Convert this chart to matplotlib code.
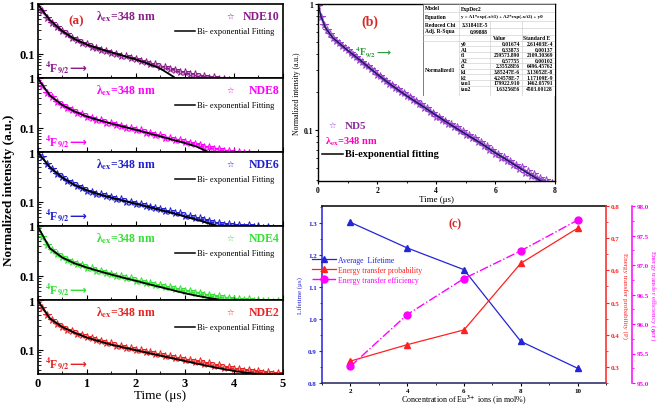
import numpy as np
import matplotlib
matplotlib.use('Agg')
import matplotlib.pyplot as plt
from matplotlib.patches import Rectangle
from matplotlib.ticker import LogLocator, NullFormatter, MultipleLocator, FormatStrFormatter

plt.rcParams['font.family'] = ['Liberation Serif', 'DejaVu Serif']
plt.rcParams['mathtext.fontset'] = 'stix'
plt.rcParams['font.weight'] = 'bold'

# ---------------- (a) decay curves of NDE samples (time in us) ----------------
t_decay = np.round(np.arange(51) * 0.1, 1)
t_fit = np.round(np.arange(21) * 0.25, 2)

samples = ['NDE10', 'NDE8', 'NDE6', 'NDE4', 'NDE2']
sample_colors = ['#8b1a8b', '#ff00ff', '#1f1fd0', '#33e033', '#e82222']

decay_nde10 = [1.00, 0.72, 0.52, 0.41, 0.345, 0.283, 0.247, 0.211, 0.190, 0.166,
               0.155, 0.137, 0.131, 0.118, 0.114, 0.103, 0.100, 0.091, 0.089, 0.082,
               0.079, 0.073, 0.070, 0.064, 0.062, 0.056, 0.055, 0.049, 0.048, 0.044,
               0.043, 0.039, 0.039, 0.035, 0.036, 0.033, 0.034, 0.031, 0.032, 0.030,
               0.029, 0.028, 0.027, 0.026, 0.025, 0.024, 0.023, 0.022, 0.021, 0.020,
               0.019]
decay_nde8 = [1.00, 0.70, 0.51, 0.41, 0.335, 0.292, 0.252, 0.230, 0.202, 0.189,
              0.169, 0.161, 0.146, 0.141, 0.128, 0.125, 0.114, 0.111, 0.101, 0.099,
              0.091, 0.089, 0.081, 0.080, 0.072, 0.071, 0.064, 0.064, 0.058, 0.058,
              0.052, 0.051, 0.047, 0.046, 0.042, 0.042, 0.038, 0.038, 0.035, 0.035,
              0.033, 0.033, 0.031, 0.031, 0.029, 0.028, 0.027, 0.026, 0.025, 0.024,
              0.023]
decay_nde6 = [1.00, 0.78, 0.57, 0.45, 0.368, 0.318, 0.267, 0.240, 0.207, 0.190,
              0.167, 0.161, 0.146, 0.142, 0.129, 0.126, 0.114, 0.113, 0.102, 0.101,
              0.093, 0.091, 0.083, 0.081, 0.074, 0.073, 0.066, 0.065, 0.059, 0.059,
              0.053, 0.053, 0.048, 0.047, 0.043, 0.042, 0.038, 0.038, 0.035, 0.036,
              0.033, 0.035, 0.032, 0.034, 0.031, 0.033, 0.030, 0.032, 0.030, 0.029,
              0.028]
decay_nde4 = [0.95, 0.60, 0.42, 0.33, 0.272, 0.240, 0.207, 0.192, 0.170, 0.162,
              0.146, 0.142, 0.128, 0.125, 0.113, 0.111, 0.100, 0.099, 0.090, 0.089,
              0.081, 0.080, 0.073, 0.072, 0.065, 0.065, 0.059, 0.059, 0.054, 0.054,
              0.049, 0.050, 0.046, 0.046, 0.042, 0.042, 0.038, 0.039, 0.036, 0.037,
              0.034, 0.035, 0.033, 0.034, 0.032, 0.033, 0.031, 0.032, 0.030, 0.031,
              0.030]
decay_nde2 = [0.95, 0.70, 0.50, 0.39, 0.327, 0.293, 0.254, 0.235, 0.209, 0.198,
              0.178, 0.172, 0.155, 0.151, 0.137, 0.135, 0.122, 0.121, 0.110, 0.109,
              0.099, 0.099, 0.090, 0.091, 0.082, 0.083, 0.075, 0.076, 0.068, 0.070,
              0.063, 0.064, 0.057, 0.059, 0.053, 0.054, 0.048, 0.049, 0.044, 0.045,
              0.041, 0.042, 0.038, 0.040, 0.036, 0.038, 0.035, 0.036, 0.033, 0.035,
              0.032]
decay_data = [decay_nde10, decay_nde8, decay_nde6, decay_nde4, decay_nde2]

fit_nde10 = [1.0, 0.48, 0.29, 0.20, 0.155, 0.128, 0.108, 0.092, 0.078, 0.064,
             0.051, 0.036, 0.024, 0.016, 0.011, 0.008, 0.006, 0.004, 0.003, 0.002, 0.0015]
fit_nde8 = [1.0, 0.45, 0.29, 0.215, 0.17, 0.143, 0.123, 0.106, 0.092, 0.079,
            0.068, 0.058, 0.050, 0.042, 0.032, 0.024, 0.017, 0.012, 0.009, 0.006, 0.004]
fit_nde6 = [1.0, 0.50, 0.31, 0.22, 0.172, 0.142, 0.122, 0.106, 0.092, 0.080,
            0.069, 0.060, 0.051, 0.044, 0.037, 0.031, 0.026, 0.021, 0.017, 0.014, 0.011]
fit_nde4 = [1.0, 0.36, 0.235, 0.18, 0.148, 0.125, 0.107, 0.092, 0.080, 0.069,
            0.060, 0.052, 0.045, 0.040, 0.036, 0.033, 0.030, 0.027, 0.024, 0.021, 0.019]
fit_nde2 = [1.0, 0.43, 0.29, 0.222, 0.178, 0.150, 0.128, 0.112, 0.099, 0.087,
            0.077, 0.068, 0.060, 0.053, 0.047, 0.042, 0.038, 0.035, 0.033, 0.031, 0.029]
fit_data = [fit_nde10, fit_nde8, fit_nde6, fit_nde4, fit_nde2]

# ---------------- (b) ND5 decay ----------------
t_nd5 = np.round(np.arange(81) * 0.1, 1)
decay_nd5 = [0.97, 0.79, 0.68, 0.62, 0.575, 0.54, 0.51, 0.487, 0.463, 0.447,
             0.428, 0.412, 0.391, 0.379, 0.360, 0.349, 0.331, 0.321, 0.303, 0.293,
             0.276, 0.269, 0.254, 0.247, 0.233, 0.228, 0.215, 0.211, 0.199, 0.196,
             0.185, 0.183, 0.173, 0.171, 0.161, 0.160, 0.151, 0.149, 0.139, 0.137,
             0.128, 0.128, 0.120, 0.119, 0.112, 0.112, 0.105, 0.105, 0.098, 0.098,
             0.092, 0.092, 0.086, 0.086, 0.080, 0.080, 0.075, 0.075, 0.069, 0.070,
             0.065, 0.065, 0.060, 0.061, 0.057, 0.057, 0.053, 0.053, 0.049, 0.051,
             0.046, 0.047, 0.043, 0.045, 0.041, 0.042, 0.039, 0.040, 0.037, 0.038,
             0.036]
t_fit_nd5 = [0, 0.1, 0.25, 0.5, 1.0, 1.5, 2.0, 2.5, 3.0, 3.5, 4.0, 4.5, 5.0, 5.5,
             6.0, 6.5, 7.0, 7.5, 8.0]
fit_nd5 = [1.0, 0.8, 0.65, 0.54, 0.43, 0.347, 0.278, 0.226, 0.187, 0.157, 0.131,
           0.11, 0.093, 0.079, 0.066, 0.056, 0.047, 0.04, 0.034]

table_params = ['y0', 'A1', 't1', 'A2', 't2', 'k1', 'k2', 'tau1', 'tau2']
table_values = ['0.01674', '0.33873', '259573.890', '0.57755', '2.35528E6',
                '3.85247E-6', '4.24578E-7', '179922.910', '1.63256E6']
table_errors = ['2.61403E-4', '0.00137', '2109.30369', '0.00102', '6496.45762',
                '3.13052E-8', '1.17109E-9', '1462.05791', '4503.00128']

# ---------------- (c) lifetime / transfer vs Eu3+ ----------------
conc = [2, 4, 6, 8, 10]
lifetime = [1.302, 1.222, 1.154, 0.930, 0.846]
probability = [0.318, 0.369, 0.415, 0.622, 0.731]
efficiency = [95.28, 96.16, 96.77, 97.24, 97.76]

W, H = 661, 410
fig = plt.figure(figsize=(W / 100, H / 100), dpi=100)


def box(x0, y0, x1, y1):
    return [x0 / W, 1 - y1 / H, (x1 - x0) / W, (y1 - y0) / H]


def level_label(ax, x, y, color, size):
    # 4F9/2 followed by an arrow; arrow drawn as a separate plain text
    t = ax.text(x, y, '$^{\\mathbf{4}}$F$_{\\mathbf{9/2}}$', transform=ax.transAxes,
                color=color, fontsize=size, va='center')
    ax.annotate('⟶', xy=(1.0, 0.45), xycoords=t, va='center', ha='left',
                color=color, fontsize=size, family='DejaVu Sans')


# ---- panel (a)
a_top, a_bot = 5, 375
sub_h = (a_bot - a_top) / 5
for i, (name, col) in enumerate(zip(samples, sample_colors)):
    y0 = a_top + i * sub_h
    ax = fig.add_axes(box(37.5, y0, 283, y0 + sub_h))
    ax.plot(t_decay, decay_data[i], color=col, lw=1.6, alpha=0.45)
    ax.plot(t_decay, decay_data[i], ls='none', marker='*', ms=5.5, mfc='none',
            mec=col, mew=0.7)
    ax.plot(t_fit, fit_data[i], color='black', lw=1.3)
    ax.set_yscale('log')
    ax.set_ylim(0.033, 1)
    ax.set_xlim(0, 5)
    ax.set_yticks([0.1, 1])
    ax.set_yticklabels(['0.1', '1'])
    ax.yaxis.set_minor_locator(LogLocator(subs=np.arange(2, 10)))
    ax.yaxis.set_minor_formatter(NullFormatter())
    ax.xaxis.set_minor_locator(MultipleLocator(0.5))
    ax.tick_params(which='both', direction='in', labelsize=9, pad=2)
    ax.tick_params(which='minor', length=2)
    for s in ax.spines.values():
        s.set_linewidth(1.2)
    if i < 4:
        ax.tick_params(axis='x', labelbottom=False)
    else:
        ax.set_xlabel('Time (μs)', fontsize=9.5, labelpad=0)
    ax.text(0.36, 0.84, 'λ$_{\\mathbf{ex}}$=348 nm', transform=ax.transAxes,
            color=col, fontsize=8.5, ha='center', va='center')
    ax.text(0.785, 0.84, '☆', transform=ax.transAxes, color=col, fontsize=6,
            ha='center', va='center', family='DejaVu Sans')
    ax.text(0.985, 0.84, name, transform=ax.transAxes, color=col, fontsize=8.5,
            ha='right', va='center')
    ax.plot([0.56, 0.64], [0.64, 0.64], transform=ax.transAxes, color='black', lw=1.1)
    ax.text(0.648, 0.64, 'Bi- exponential Fitting', transform=ax.transAxes,
            fontsize=6, fontweight='normal', va='center')
    level_label(ax, 0.03, 0.15, col, 8.5)
    if i == 0:
        ax.text(0.125, 0.78, '(a)', transform=ax.transAxes, color='#d42a2a',
                fontsize=9.5, va='center')

fig.text(0.013, 1 - (a_top + a_bot) / 2 / H, 'Normalized intensity (a.u.)',
         rotation=90, ha='center', va='center', fontsize=9.5)

# ---- panel (b)
axb = fig.add_axes(box(318, 5, 554.5, 182))
axb.plot(t_nd5, decay_nd5, color='#9a40d0', lw=1.6, alpha=0.45)
axb.plot(t_nd5, decay_nd5, ls='none', marker='*', ms=5.5, mfc='none', mec='#9a40d0', mew=0.7)
axb.plot(t_fit_nd5, fit_nd5, color='#1a1a5e', lw=1.1)
axb.set_yscale('log')
axb.set_ylim(0.0395, 1)
axb.set_xlim(0, 8)
axb.set_yticks([0.1, 1])
axb.set_yticklabels(['0.1', '1'])
axb.yaxis.set_minor_locator(LogLocator(subs=np.arange(2, 10)))
axb.yaxis.set_minor_formatter(NullFormatter())
axb.set_xticks([0, 2, 4, 6, 8])
axb.xaxis.set_minor_locator(MultipleLocator(1))
axb.tick_params(which='both', direction='out', labelsize=5.5, pad=1.5, length=2)
axb.tick_params(which='minor', length=1.2)
axb.set_xlabel('Time (μs)', fontsize=6.5, labelpad=1)
axb.set_ylabel('Normalized intensity (a.u.)', fontsize=5.5, labelpad=2)
for s in axb.spines.values():
    s.set_linewidth(1.0)
axb.text(0.22, 0.905, '(b)', transform=axb.transAxes, color='#d42a2a', fontsize=10,
         ha='center', va='center')
level_label(axb, 0.157, 0.73, '#2e9a3e', 7)
axb.text(0.058, 0.316, '☆', transform=axb.transAxes, color='#9a40d0', fontsize=6,
         ha='center', va='center', family='DejaVu Sans')
axb.text(0.114, 0.316, 'ND5', transform=axb.transAxes, color='#8b2a9b', fontsize=8,
         va='center')
axb.text(0.03, 0.228, 'λ$_{\\mathbf{ex}}$=348 nm', transform=axb.transAxes,
         color='#ff00bb', fontsize=7.5, va='center')
axb.plot([0.016, 0.107], [0.153, 0.153], transform=axb.transAxes, color='black', lw=1.1)
axb.text(0.114, 0.153, 'Bi-exponential fitting', transform=axb.transAxes,
         fontsize=7.5, va='center')

# fit report table inside (b)
tab = fig.add_axes(box(423, 5, 555, 97))
tab.set_xlim(423, 555)
tab.set_ylim(97, 5)
tab.axis('off')
tab.add_patch(Rectangle((423, 5), 132, 92, facecolor='white', edgecolor='#666666', lw=0.6))
grid_kw = dict(color='#c8c8c8', lw=0.4)
tab.plot([459, 459], [5, 97], **grid_kw)
tab.plot([490, 490], [21.5, 97], **grid_kw)
tab.plot([522, 522], [21.5, 97], **grid_kw)
for yy in [12.8, 21.5, 29, 35.5, 41.5]:
    tab.plot([423, 555], [yy, yy], **grid_kw)
for k in range(8):
    tab.plot([459, 555], [47.3 + 5.6 * k, 47.3 + 5.6 * k], **grid_kw)
fs_t = 4
tab.text(425, 9, 'Model', fontsize=fs_t, va='center')
tab.text(461, 9, 'ExpDec2', fontsize=fs_t, va='center')
tab.text(425, 17.5, 'Equation', fontsize=fs_t, va='center')
tab.text(461, 16.8, 'y = A1*exp(-x/t1) + A2*exp(-x/t2) + y0', fontsize=3.6, va='center')
tab.text(425, 25.5, 'Reduced Chi', fontsize=fs_t, va='center')
tab.text(462, 25.5, '3.31841E-5', fontsize=fs_t, va='center')
tab.text(425, 32, 'Adj. R-Squa', fontsize=fs_t, va='center')
tab.text(488, 32, '0.99888', fontsize=fs_t, va='center', ha='right')
tab.text(500, 38.8, 'Value', fontsize=fs_t, va='center', ha='center')
tab.text(537, 38.8, 'Standard E', fontsize=fs_t, va='center', ha='center')
tab.text(425, 70, 'Normalized1', fontsize=fs_t, va='center')
for k, (p, v, e) in enumerate(zip(table_params, table_values, table_errors)):
    yy = 44.5 + 5.6 * k
    tab.text(461, yy, p, fontsize=fs_t, va='center')
    tab.text(520, yy, v, fontsize=fs_t, va='center', ha='right')
    tab.text(553, yy, e, fontsize=fs_t, va='center', ha='right')

# ---- panel (c)
c_blue, c_red, c_mag = '#2424d8', '#ff2020', '#ff00ff'
axc = fig.add_axes(box(322, 207, 606, 384))
axr = axc.twinx()
axm = axc.twinx()
axm.spines['right'].set_position(('axes', (632 - 322) / 284))

l1, = axc.plot(conc, lifetime, color=c_blue, marker='^', ms=5, lw=0.9,
               label='Average  Lifetime')
l2, = axr.plot(conc, probability, color=c_red, marker='^', ms=5, lw=0.9,
               label='Energy transfer probability')
l3, = axm.plot(conc, efficiency, color=c_mag, marker='o', ms=5, lw=1.0, ls='-.',
               label='Energy transfer efficiency')

axc.set_xlim(1, 11)
axc.set_ylim(0.8, 1.353)
axr.set_ylim(0.25, 0.8)
axm.set_ylim(95, 98)
axc.set_xticks(conc)
axc.xaxis.set_minor_locator(MultipleLocator(1))
axc.set_yticks([0.8, 0.9, 1.0, 1.1, 1.2, 1.3])
axc.yaxis.set_major_formatter(FormatStrFormatter('%.1f'))
axc.yaxis.set_minor_locator(MultipleLocator(0.05))
axr.set_yticks([0.3, 0.4, 0.5, 0.6, 0.7, 0.8])
axr.yaxis.set_major_formatter(FormatStrFormatter('%.1f'))
axr.yaxis.set_minor_locator(MultipleLocator(0.05))
axm.set_yticks([95.0, 95.5, 96.0, 96.5, 97.0, 97.5, 98.0])
axm.yaxis.set_major_formatter(FormatStrFormatter('%.1f'))
axm.yaxis.set_minor_locator(MultipleLocator(0.25))

for a in (axc, axr, axm):
    a.tick_params(which='both', direction='out', labelsize=5, pad=1.5, length=2.2)
    a.tick_params(which='minor', length=1.3)
axc.tick_params(axis='y', which='both', colors=c_blue)
axr.tick_params(axis='y', which='both', colors=c_red)
axm.tick_params(axis='y', which='both', colors=c_mag)

for a in (axr, axm):
    for side in ('left', 'top', 'bottom'):
        a.spines[side].set_visible(False)
axc.spines['right'].set_visible(False)
axc.spines['left'].set_color(c_blue)
axc.spines['bottom'].set_color('#202060')
axr.spines['right'].set_color(c_red)
axm.spines['right'].set_color(c_mag)
for a in (axc, axr, axm):
    for s in a.spines.values():
        s.set_linewidth(1.1)

axc.set_xlabel('Concentration of Eu$^{\\mathbf{3+}}$ ions (in mol%)', fontsize=5.8, labelpad=0)
axc.set_ylabel('Lifetime (μs)', fontsize=5, color=c_blue, labelpad=4)
axr.set_ylabel('Energy transfer probability (P)', fontsize=5, color=c_red,
               rotation=270, labelpad=6)
axm.set_ylabel('Energy transfer efficiency ($\\eta_{ET}$)', fontsize=5, color=c_mag,
               rotation=270, labelpad=6)

axc.text(0.468, 0.905, '(c)', transform=axc.transAxes, color='#d42a2a', fontsize=8.5,
         ha='center', va='center')
axm.legend([l1, l2, l3], [l1.get_label(), l2.get_label(), l3.get_label()],
           loc='upper left', bbox_to_anchor=(-0.045, 0.735), frameon=False,
           prop={'size': 5.6, 'weight': 'normal'}, handlelength=3.0,
           handletextpad=0.3, labelspacing=0.25, labelcolor='linecolor',
           borderaxespad=0)

fig.savefig('out.png', dpi=100)
